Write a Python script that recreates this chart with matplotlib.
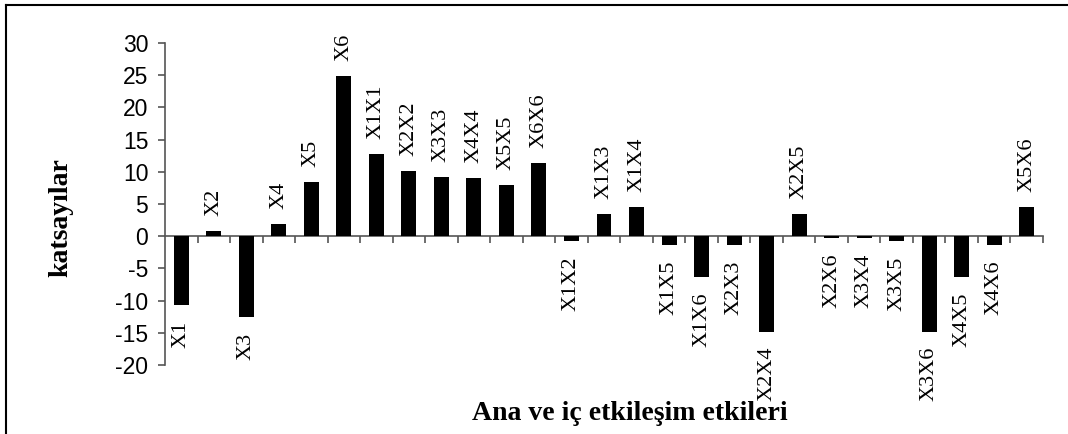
import matplotlib
matplotlib.use("Agg")
import matplotlib.pyplot as plt
from matplotlib.lines import Line2D

categories = ["X1", "X2", "X3", "X4", "X5", "X6",
              "X1X1", "X2X2", "X3X3", "X4X4", "X5X5", "X6X6",
              "X1X2", "X1X3", "X1X4", "X1X5", "X1X6",
              "X2X3", "X2X4", "X2X5", "X2X6",
              "X3X4", "X3X5", "X3X6",
              "X4X5", "X4X6", "X5X6"]
values = [-10.7, 0.8, -12.6, 1.9, 8.4, 24.8,
          12.7, 10.1, 9.2, 9.0, 7.9, 11.4,
          -0.8, 3.4, 4.5, -1.4, -6.3,
          -1.4, -14.8, 3.4, -0.3,
          -0.3, -0.8, -14.8,
          -6.3, -1.4, 4.5]
yticks = [-20, -15, -10, -5, 0, 5, 10, 15, 20, 25, 30]

W, H = 1068, 434
fig = plt.figure(figsize=(W / 100, H / 100), dpi=100)
ax = fig.add_axes([165 / W, 1 - 365 / H, (1043 - 165) / W, (365 - 43) / H])

n = len(categories)
xs = [i + 0.5 for i in range(n)]
ax.bar(xs, values, width=0.46, color="black", zorder=3)

ax.set_xlim(0, n)
ax.set_ylim(-20, 30)
ax.set_yticks(yticks)
ax.set_yticklabels([str(t) for t in yticks], family="Liberation Sans", fontsize=16.5)

axis_col = "#555555"
for s in ["top", "right"]:
    ax.spines[s].set_visible(False)
ax.spines["bottom"].set_position(("data", 0))
ax.spines["bottom"].set_color(axis_col)
ax.spines["left"].set_color(axis_col)
ax.spines["bottom"].set_linewidth(1.2)
ax.spines["left"].set_linewidth(1.2)

ax.set_xticks(list(range(1, n + 1)))
ax.set_xticklabels([])
ax.tick_params(axis="x", direction="out", length=5, width=1.2, color=axis_col)
ax.tick_params(axis="y", direction="out", length=5, width=1.2, color=axis_col, pad=7)

for x, v, lab in zip(xs, values, categories):
    if v >= 0:
        ax.annotate(lab, (x, v), xytext=(0, 11), textcoords="offset points",
                    rotation=90, ha="center", va="bottom",
                    family="Liberation Serif", fontsize=16)
    else:
        ax.annotate(lab, (x, v), xytext=(0, -11), textcoords="offset points",
                    rotation=90, ha="center", va="top",
                    family="Liberation Serif", fontsize=16)

fig.text(61 / W, 1 - 218 / H, "katsayılar", rotation=90, ha="center", va="center",
         family="Liberation Serif", fontweight="bold", fontsize=20)
fig.text(630 / W, 1 - 413 / H, "Ana ve iç etkileşim etkileri", ha="center", va="center",
         family="Liberation Serif", fontweight="bold", fontsize=20)

# outer frame (top and left edges visible)
fig.add_artist(Line2D([6 / W, 1], [1 - 5 / H, 1 - 5 / H], color="black", lw=1.5,
                      transform=fig.transFigure))
fig.add_artist(Line2D([6 / W, 6 / W], [0, 1 - 5 / H], color="black", lw=1.5,
                      transform=fig.transFigure))

fig.savefig("out.png", dpi=100)
